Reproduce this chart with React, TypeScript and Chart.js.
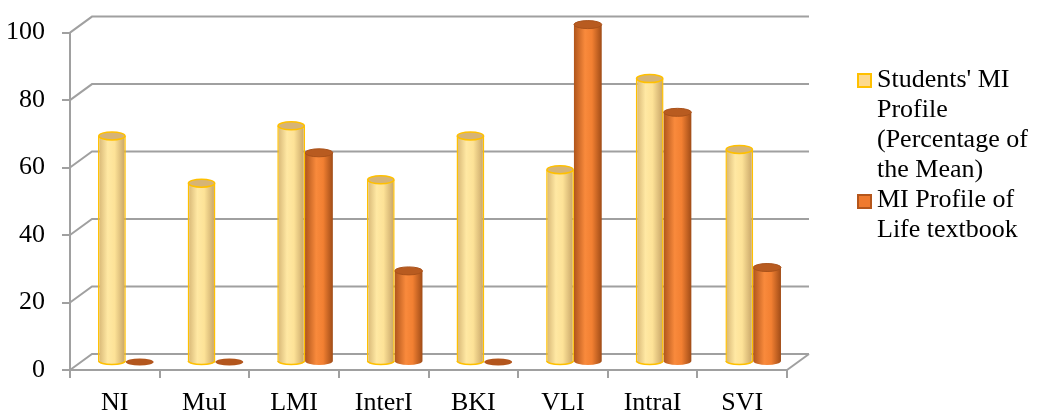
import React, { useEffect, useRef } from 'react';
import { Chart, registerables } from 'chart.js';

Chart.register(...registerables);

const categories = ['NI', 'MuI', 'LMI', 'InterI', 'BKI', 'VLI', 'IntraI', 'SVI'];
const studentsValues = [67, 53, 70, 54, 67, 57, 84, 63];
const textbookValues = [0, 0, 62, 27, 0, 100, 74, 28];
const yTicks = [0, 20, 40, 60, 80, 100];
const studentsLabel = ["Students' MI", 'Profile', '(Percentage of', 'the Mean)'];
const textbookLabel = ['MI Profile of', 'Life textbook'];

const FONT = "'Liberation Serif', 'Times New Roman', serif";
const GRID = '#a0a0a0';
const DX = 22;
const DY = -16;
const CAT_PCT = 0.62;
const RY = 4;

const STUDENT_STOPS: [number, string][] = [
  [0, '#d4b372'],
  [0.35, '#ffe8a3'],
  [0.6, '#fde297'],
  [1, '#c3a064'],
];
const TEXTBOOK_STOPS: [number, string][] = [
  [0, '#b0551b'],
  [0.4, '#f98a3c'],
  [0.65, '#f28032'],
  [1, '#a04c17'],
];

function makeGradient(c: any, stops: [number, string][]) {
  const chart = c.chart;
  const xs = chart.scales && chart.scales.x;
  if (!xs || c.type !== 'data' || !isFinite(xs.left)) return stops[1][1];
  const cat = xs.getPixelForValue(c.dataIndex);
  const catW = (xs.right - xs.left) / categories.length;
  const slot = (catW * CAT_PCT) / 2;
  const cx = cat + (c.datasetIndex - 0.5) * slot;
  const g = chart.ctx.createLinearGradient(cx - slot / 2, 0, cx + slot / 2, 0);
  stops.forEach(([o, col]) => g.addColorStop(o, col));
  return g;
}

const threeD = {
  id: 'threeD',
  beforeDatasetsDraw(chart: any) {
    const { ctx, chartArea, scales } = chart;
    const y = scales.y;
    ctx.save();
    ctx.strokeStyle = GRID;
    ctx.lineWidth = 2;
    for (const v of yTicks) {
      const py = y.getPixelForValue(v);
      ctx.beginPath();
      ctx.moveTo(chartArea.left, py);
      ctx.lineTo(chartArea.left + DX, py + DY);
      ctx.lineTo(chartArea.right + DX, py + DY);
      ctx.stroke();
    }
    const p0 = y.getPixelForValue(0);
    ctx.beginPath();
    ctx.moveTo(chartArea.right, p0);
    ctx.lineTo(chartArea.right + DX, p0 + DY);
    ctx.stroke();
    ctx.restore();
    ctx.save();
    ctx.translate(DX / 2, DY / 2);
  },
  afterDatasetDraw(chart: any, args: any) {
    const { ctx } = chart;
    const meta = args.meta;
    const isStudents = args.index === 0;
    const stops = isStudents ? STUDENT_STOPS : TEXTBOOK_STOPS;
    meta.data.forEach((el: any, i: number) => {
      const { x, y, base, width } = el.getProps(['x', 'y', 'base', 'width'], true);
      const rx = width / 2;
      const value = chart.data.datasets[args.index].data[i];
      ctx.save();
      if (value === 0) {
        ctx.beginPath();
        ctx.ellipse(x, base, rx, RY - 0.5, 0, 0, Math.PI * 2);
        ctx.fillStyle = '#b3561d';
        ctx.fill();
        ctx.restore();
        return;
      }
      const g = ctx.createLinearGradient(x - rx, 0, x + rx, 0);
      stops.forEach(([o, col]) => g.addColorStop(o, col));
      ctx.beginPath();
      ctx.ellipse(x, base, rx, RY, 0, 0, Math.PI);
      ctx.closePath();
      ctx.fillStyle = g;
      ctx.fill();
      if (isStudents) {
        ctx.beginPath();
        ctx.ellipse(x, base, rx - 0.75, RY - 0.5, 0, 0, Math.PI);
        ctx.strokeStyle = '#ffc000';
        ctx.lineWidth = 1.5;
        ctx.stroke();
      }
      ctx.beginPath();
      ctx.ellipse(x, y, rx - (isStudents ? 0.75 : 0), RY, 0, 0, Math.PI * 2);
      ctx.fillStyle = isStudents ? '#d6b476' : '#b85b20';
      ctx.fill();
      ctx.strokeStyle = isStudents ? '#ffc000' : '#a9521b';
      ctx.lineWidth = isStudents ? 1.5 : 1;
      ctx.stroke();
      ctx.restore();
    });
  },
  afterDatasetsDraw(chart: any) {
    chart.ctx.restore();
  },
};

export default function App() {
  const canvasRef = useRef<HTMLCanvasElement | null>(null);

  useEffect(() => {
    const canvas = canvasRef.current;
    if (!canvas) return;
    const chart = new Chart(canvas, {
      type: 'bar',
      data: {
        labels: categories,
        datasets: [
          {
            label: studentsLabel.join(' '),
            data: studentsValues,
            backgroundColor: (c: any) => makeGradient(c, STUDENT_STOPS),
            borderColor: '#ffc000',
            borderWidth: { left: 1.5, right: 1.5, top: 0, bottom: 0 },
            borderSkipped: false,
            categoryPercentage: CAT_PCT,
            barPercentage: 1,
          },
          {
            label: textbookLabel.join(' '),
            data: textbookValues,
            backgroundColor: (c: any) => makeGradient(c, TEXTBOOK_STOPS),
            borderWidth: 0,
            categoryPercentage: CAT_PCT,
            barPercentage: 1,
          },
        ],
      },
      options: {
        responsive: false,
        animation: false,
        layout: { padding: { top: 28, right: 250, left: 0, bottom: 0 } },
        plugins: {
          legend: { display: false },
          tooltip: { enabled: false },
        },
        scales: {
          x: {
            grid: {
              offset: true,
              drawOnChartArea: false,
              drawTicks: true,
              tickLength: 8,
              color: GRID,
              lineWidth: 2,
            },
            border: { display: true, color: GRID, width: 2 },
            ticks: {
              font: { family: FONT, size: 26 },
              color: '#000',
              padding: 10,
              maxRotation: 0,
              autoSkip: false,
            },
            afterFit: (s: any) => {
              s.height = 43;
            },
          },
          y: {
            min: 0,
            max: 100,
            grid: {
              drawOnChartArea: false,
              drawTicks: true,
              tickLength: 8,
              color: GRID,
              lineWidth: 2,
            },
            border: { display: true, color: GRID, width: 2 },
            ticks: {
              stepSize: 20,
              font: { family: FONT, size: 26 },
              color: '#000',
              padding: 17,
            },
            afterFit: (s: any) => {
              s.width = 70;
            },
          },
        },
      },
      plugins: [threeD],
    });
    return () => chart.destroy();
  }, []);

  const textStyle: React.CSSProperties = {
    position: 'absolute',
    left: 877,
    fontFamily: FONT,
    fontSize: 26,
    lineHeight: '30px',
    color: '#000',
    whiteSpace: 'nowrap',
  };
  const boxStyle: React.CSSProperties = {
    position: 'absolute',
    left: 857,
    width: 11,
    height: 11,
  };

  return (
    <div style={{ position: 'fixed', left: 0, top: 0, width: 1037, height: 413, background: '#fff' }}>
      <canvas ref={canvasRef} width={1037} height={413} style={{ display: 'block' }} />
      <div style={{ ...boxStyle, top: 73, background: '#fdd98e', border: '2px solid #ffc000' }} />
      <div style={{ ...textStyle, top: 64 }}>
        {studentsLabel.map((l) => (
          <div key={l}>{l}</div>
        ))}
      </div>
      <div style={{ ...boxStyle, top: 194, background: '#ef7a2e', border: '2px solid #b5561b' }} />
      <div style={{ ...textStyle, top: 184 }}>
        {textbookLabel.map((l) => (
          <div key={l}>{l}</div>
        ))}
      </div>
    </div>
  );
}
